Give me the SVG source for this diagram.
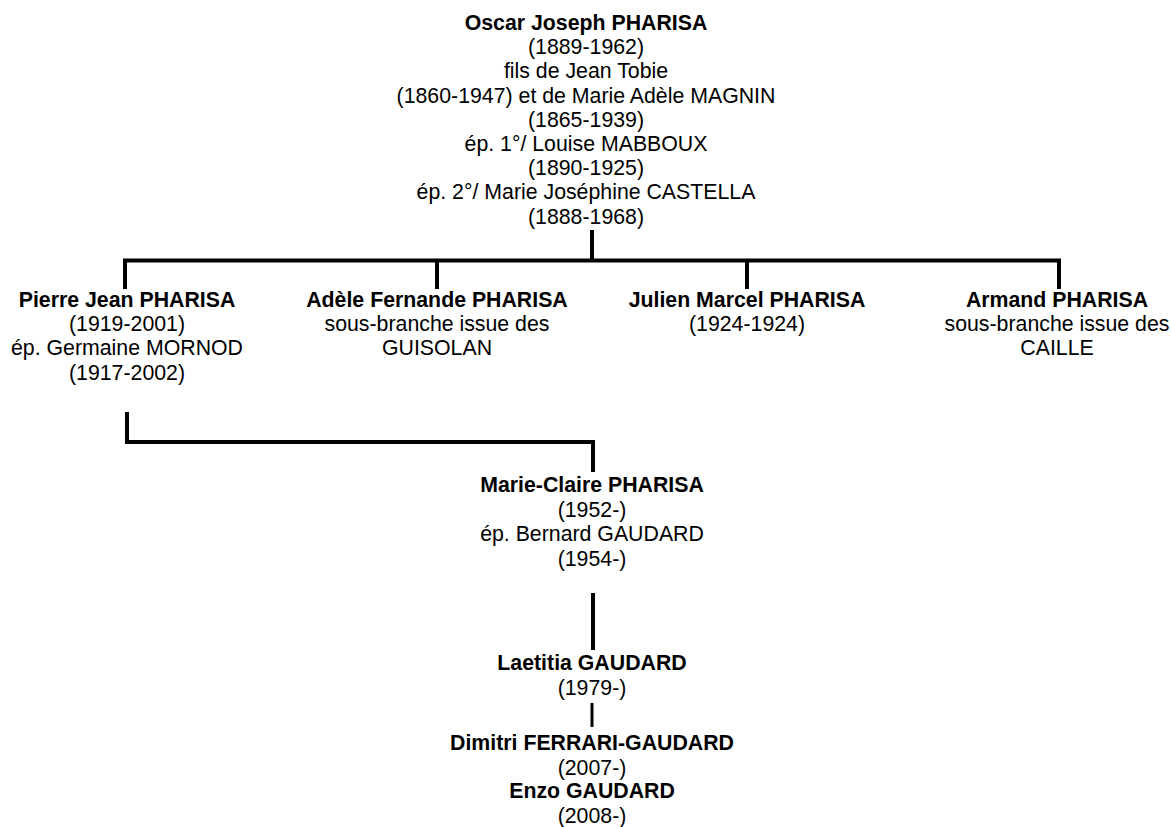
<svg xmlns="http://www.w3.org/2000/svg" width="1171" height="827" viewBox="0 0 1171 827">
<style>
text{font-family:"Liberation Sans",Arial,sans-serif;font-size:21.3px;fill:#000;text-anchor:middle}
.b{font-weight:bold}
.c{fill:none;stroke:#000;stroke-width:4;stroke-linecap:butt;stroke-linejoin:miter}
.t{fill:none;stroke:#000;stroke-width:3}
</style>
<rect width="1171" height="827" fill="#fff"/>
<g id="connectors">
<path class="c" d="M592 230V260.5M125 289V260.5H1059V289M437 260.5V289M747 260.5V289"/>
<path class="c" d="M127 412V442H593V472"/>
<path class="c" d="M593 593V650"/>
<path class="t" d="M592 703V727"/>
</g>
<g id="oscar">
<text x="586" y="30" class="b">Oscar Joseph PHARISA</text>
<text x="586" y="54.2">(1889-1962)</text>
<text x="586" y="78.4">fils de Jean Tobie</text>
<text x="586" y="102.6">(1860-1947) et de Marie Adèle MAGNIN</text>
<text x="586" y="126.8">(1865-1939)</text>
<text x="586" y="151">ép. 1°/ Louise MABBOUX</text>
<text x="586" y="175.2">(1890-1925)</text>
<text x="586" y="199.4">ép. 2°/ Marie Joséphine CASTELLA</text>
<text x="586" y="223.6">(1888-1968)</text>
</g>
<g id="pierre">
<text x="127" y="307" class="b">Pierre Jean PHARISA</text>
<text x="127" y="331.2">(1919-2001)</text>
<text x="127" y="355.4">ép. Germaine MORNOD</text>
<text x="127" y="379.6">(1917-2002)</text>
</g>
<g id="adele">
<text x="437" y="307" class="b">Adèle Fernande PHARISA</text>
<text x="437" y="331.2">sous-branche issue des</text>
<text x="437" y="355.4">GUISOLAN</text>
</g>
<g id="julien">
<text x="747" y="307" class="b">Julien Marcel PHARISA</text>
<text x="747" y="331.2">(1924-1924)</text>
</g>
<g id="armand">
<text x="1057" y="307" class="b">Armand PHARISA</text>
<text x="1057" y="331.2">sous-branche issue des</text>
<text x="1057" y="355.4">CAILLE</text>
</g>
<g id="marie-claire">
<text x="592" y="492" class="b">Marie-Claire PHARISA</text>
<text x="592" y="516.5">(1952-)</text>
<text x="592" y="541">ép. Bernard GAUDARD</text>
<text x="592" y="565.5">(1954-)</text>
</g>
<g id="laetitia">
<text x="592" y="670" class="b">Laetitia GAUDARD</text>
<text x="592" y="694.5">(1979-)</text>
</g>
<g id="dimitri">
<text x="592" y="750" class="b">Dimitri FERRARI-GAUDARD</text>
<text x="592" y="774.5">(2007-)</text>
</g>
<g id="enzo">
<text x="592" y="798" class="b">Enzo GAUDARD</text>
<text x="592" y="822.5">(2008-)</text>
</g>
</svg>
